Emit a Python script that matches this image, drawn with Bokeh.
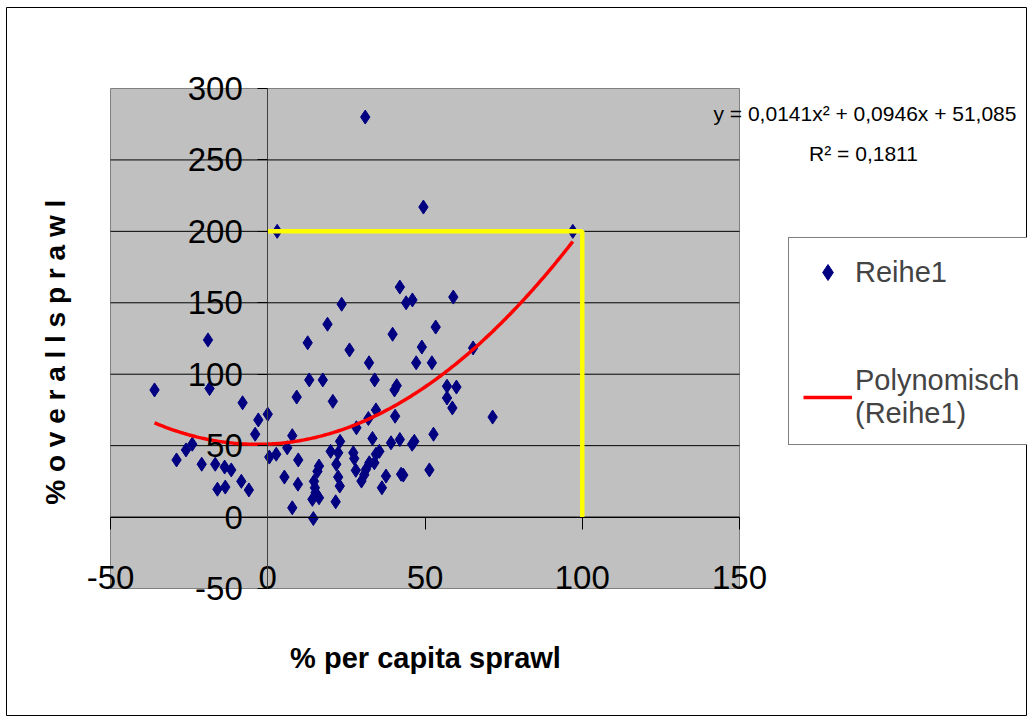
import numpy as np
from bokeh.plotting import figure
from bokeh.models import (LinearAxis, FixedTicker, Legend, LegendItem, Label,
                          ColumnDataSource)
from bokeh.embed import file_html
from bokeh.resources import INLINE

# ---- data -------------------------------------------------------------
per_capita = [31, 3, 49.5, 42, 23.5, 44, 46, 19, 39.7, 59, 53.4, 97,
              -36, -19, -18.5, -8, -3, 0, -4, -29, -26, -24, -21, -16.7,
              -13.7, -11.6, -16, -13.5, -8.4, -6, 0.5, 2.7, 6.2, 7.8, 9.7, 5.3,
              9.6, 7.8, 14.5, 12.7, 13.2, 17.5, 9.2, 20.7, 26, 32.2, 34, 41,
              40.3, 49, 47.2, 52.2, 28.2, 32, 34.4, 40.5, 23, 20, 22.4, 16.3,
              15.8, 14.7, 15, 15.2, 14.2, 16.3, 21.8, 22.4, 22.9, 21.6, 27.2, 28,
              29.8, 31.2, 32.3, 33.3, 34.4, 35.5, 33.9, 37.6, 36.3, 39.2, 42, 42.4,
              43.1, 46.6, 45.9, 57, 60, 57, 58.7, 65.3, 71.5, 52.7, 51.4, 30.7,
              27.5]
overall = [280, 200, 217, 161, 149, 150, 152, 135, 128, 154, 133, 200,
           89, 124, 90, 80, 68, 72, 58, 40, 47, 51, 37, 37,
           35, 33, 19.5, 21, 25, 19, 42, 44, 48.5, 57, 40, 28,
           23, 6.5, -1, 122, 96, 96, 84, 81, 117, 108, 96, 92,
           89, 119, 108, 108, 62.5, 69, 75, 70.6, 53, 46, 45, 35.7,
           32, 25, 20.5, 17, 12.4, 13.5, 37, 28, 21.7, 10.7, 45, 32.7,
           25.2, 33.3, 38, 55, 44, 46, 38, 28.7, 20.5, 52, 54.3, 30,
           29.4, 53, 51, 91.6, 91, 83.4, 76.4, 118.4, 70, 58, 33, 29.6,
           41]

# trendline coefficients as printed on the chart (a2, a1, a0)
trend_coef = [0.0141, 0.0946, 51.085]
trend_r2 = 0.1811

# yellow guide (from the y axis at 200 to x = 100, then down to the x axis)
guide_x = [0, 100, 100]
guide_y = [200, 200, 0]

x_ticks = [-50, 0, 50, 100, 150]
y_ticks = [-50, 0, 50, 100, 150, 200, 250, 300]

series_name = "Reihe1"
trend_name = "Polynomisch\n(Reihe1)"
x_title = "% per capita sprawl"
y_title = "% o v e r a l l   s p r a w l"

# ---- layout (pixels) ---------------------------------------------------
W, H = 1027, 716                  # figure size
FR_L, FR_T = 6, 7                 # chart-area border (frame) top-left
PA_L, PA_R, PA_T, PA_B = 110, 739, 88, 588   # grey plot area in pixels

x0, x1 = x_ticks[0], x_ticks[-1]
y0, y1 = y_ticks[0], y_ticks[-1]
sx = (PA_R - PA_L) / (x1 - x0)
sy = (PA_B - PA_T) / (y1 - y0)
x_range = (x0 - (PA_L - FR_L) / sx, x1 + (W - PA_R) / sx)
y_range = (y0 - (H - PA_B) / sy, y1 + (PA_T - FR_T) / sy)

def dx(px):
    return x0 + (px - PA_L) / sx

def dy(py):
    return y0 + (PA_B - py) / sy

FONT = "Liberation Sans"

p = figure(width=W, height=H, x_range=x_range, y_range=y_range, title=None,
           x_axis_location=None, y_axis_location=None,
           toolbar_location=None, output_backend="svg",
           min_border_left=FR_L, min_border_top=FR_T,
           min_border_right=0, min_border_bottom=0)
for g in p.grid:
    g.visible = False
p.background_fill_color = "white"
p.border_fill_color = "white"
p.outline_line_color = "black"
p.outline_line_width = 1

# grey plot area
p.quad(left=[x0], right=[x1], bottom=[y0], top=[y1],
       fill_color="#C0C0C0", line_color="#808080", line_width=1)

# horizontal gridlines across the plot area
gy = y_ticks[1:-1]
p.segment(x0=[x0] * len(gy), x1=[x1] * len(gy), y0=gy, y1=gy,
          line_color="black", line_width=1)

# plain hyphen for negative tick labels, as in the original
xo = {t: str(t) for t in x_ticks}
yo = {t: str(t) for t in y_ticks}

# axes crossing at zero
xax = LinearAxis(fixed_location=0, bounds=(x0, x1),
                 ticker=FixedTicker(ticks=x_ticks), major_label_overrides=xo,
                 major_tick_in=0, major_tick_out=12,
                 minor_tick_in=0, minor_tick_out=0,
                 axis_line_color="black", major_tick_line_color="black",
                 major_label_text_font=FONT, major_label_text_font_size="33px",
                 major_label_text_color="black", major_label_standoff=37)
p.add_layout(xax, "below")

yax = LinearAxis(fixed_location=0, bounds=(y0, y1),
                 ticker=FixedTicker(ticks=y_ticks), major_label_overrides=yo,
                 major_tick_in=0, major_tick_out=10,
                 minor_tick_in=0, minor_tick_out=0,
                 axis_line_color="#404040", major_tick_line_color="black",
                 major_label_text_font=FONT, major_label_text_font_size="33px",
                 major_label_text_color="black", major_label_standoff=15)
p.add_layout(yax, "left")

# ---- marks -------------------------------------------------------------
src = ColumnDataSource(dict(x=per_capita, y=overall))
pts = p.scatter("x", "y", source=src, marker="diamond", size=14,
                fill_color="#000080", line_color="#000080")

tx = np.linspace(min(per_capita), max(per_capita), 200)
ty = np.polyval(trend_coef, tx)
trend = p.line(tx, ty, line_color="#FF0000", line_width=3.5)

p.line(guide_x, guide_y, line_color="#FFFF00", line_width=4.5)

# ---- titles -------------------------------------------------------------
p.add_layout(Label(x=dx(425), y=dy(657), text=x_title, text_align="center",
                   text_baseline="middle", text_font=FONT,
                   text_font_size="29px", text_font_style="bold",
                   text_color="black"))
p.add_layout(Label(x=dx(55), y=dy(344), text=y_title, angle=np.pi / 2,
                   text_align="center", text_baseline="middle", text_font=FONT,
                   text_font_size="28px", text_font_style="bold",
                   text_color="black"))

# ---- trendline equation ------------------------------------------------
eq = "y = {:.4f}x\u00b2 + {:.4f}x + {:.3f}".format(*trend_coef).replace(".", ",")
r2 = "R\u00b2 = {:.4f}".format(trend_r2).replace(".", ",")
p.add_layout(Label(x=dx(713), y=dy(113), text=eq, text_align="left",
                   text_baseline="middle", text_font=FONT,
                   text_font_size="21px", text_color="black"))
p.add_layout(Label(x=dx(863), y=dy(153), text=r2, text_align="center",
                   text_baseline="middle", text_font=FONT,
                   text_font_size="21px", text_color="black"))

# ---- legend ------------------------------------------------------------
legend = Legend(items=[LegendItem(label=series_name, renderers=[pts]),
                       LegendItem(label=trend_name, renderers=[trend])],
                location=(788 - FR_L, H - 445), margin=0, padding=14, spacing=72,
                glyph_width=49, glyph_height=40, label_height=40,
                label_standoff=3, label_width=165,
                label_text_font=FONT, label_text_font_size="29px",
                border_line_color="black", border_line_width=1,
                background_fill_color="white", background_fill_alpha=1)
p.add_layout(legend)

open("out.html", "w").write(file_html(p, INLINE))
